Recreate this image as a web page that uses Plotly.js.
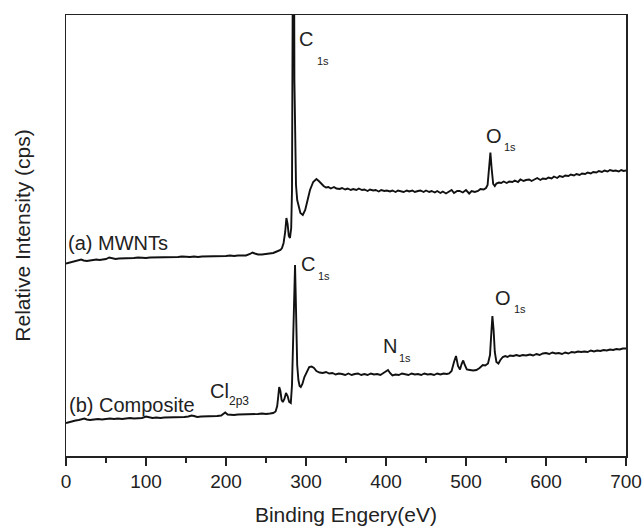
<!DOCTYPE html>
<html>
<head>
<meta charset="utf-8">
<script src="https://cdn.plot.ly/plotly-3.0.1.min.js"></script>
<style>html,body{margin:0;padding:0;background:#fff;}#chart{width:642px;height:526px;}</style>
</head>
<body>
<div id="chart"></div>
<script>
// Binding energy (eV) and relative intensity (arbitrary)
const mwntEnergy = [0,4,8,12,16,19,22,26,30,34,38,42,46,50,54,58,62,66,70,75,80,85,90,95,100,105,110,115,120,125,130,135,140,145,150,155,160,165,170,175,180,185,190,195,200,205,210,215,220,225,230,233,236,240,245,250,255,259,262,265,268,270,272,274,275.5,277,278.5,280,281.5,282.5,283.5,284.5,285.5,286.5,287.5,289,291,293,296,299,302,305,309,313,316,319,322,325,328,331,335,338,342,345,349,352,356,359,363,366,370,373,377,380,384,387,391,394,398,401,405,408,412,415,419,422,426,429,433,436,440,443,447,450,454,457,461,464,468,471,475,478,482,485,489,492,496,500,504,507,511,515,518,522,525,527,529,530.5,532,534,536,538,541,544,547,551,554,558,561,565,568,572,575,579,582,586,589,593,596,600,603,607,610,614,617,621,624,628,631,635,638,642,645,649,652,656,659,663,666,670,673,677,680,684,687,691,694,697,700];
const mwntIntensity = [192.5,193.5,194,195,196,196.5,195.5,195,195.5,196,196.5,196,196.5,197,198.5,197.5,197,197.5,197.5,198,197.5,198,198.5,198,198,198.5,198.5,199,198.5,199,199,198.5,199,199.5,199,199,199.5,199,199.5,199.5,200,199.5,200,199.5,200,200.5,200,200.5,200.5,200.5,202,203.5,202.5,201.5,201.5,202,202.5,203,204,205,206,208,213,224,238,232,220,218,228,266,356,700,376,306,271,256,248,243,241,246,256,266,274,277,275,272,270,268.5,269,267.5,269,267.5,267,268,266.5,267.5,266,267,266,267.5,266,266.5,265,266.5,265.5,266,264.5,266,265,265.5,264.5,265.5,264,265.5,265,264,265.5,264.5,265.5,264,265,265.5,264,265.5,264,265,263.5,265,263,264.5,262.5,264,266,263,265,265,263.5,266,262.5,265,264,265,267,266.5,268,271,288,303.5,288,272,270,272.5,273.5,273,274.5,273,274.5,274,275.5,274,276.5,275,276,276.5,275,276.5,278,276,277.5,277,278.5,277.5,279.5,278,280,279,280.5,280,281.5,280.5,282,281,282.5,282,283.5,282.5,284,283.5,285,284,285.5,284.5,286,285,285.5,284.5,286,285,285.5];

const compEnergy = [0,4,8,12,16,20,23,26,30,35,40,45,50,55,60,65,70,75,80,85,90,95,100,104,108,113,118,123,128,133,138,143,148,153,157,160,164,169,174,179,184,189,194,197,199,202,206,210,215,220,225,230,235,240,245,250,255,259,262,264,265.5,266.5,268,269.5,271,273,275,277,279,281,282.5,284,285.5,286.3,287,288,289,290.5,292,293.5,295.5,298,301,304,307,310,313,317,321,325,329,333,337,341,345,349,353,357,361,365,369,373,377,381,385,389,393,397,400,402.5,405,408,412,416,420,424,428,432,436,440,444,448,452,456,460,464,468,472,476,479,482,485,487.5,490,492.5,494.5,496.5,498.5,501,505,509,513,517,521,524,527.5,530,531.5,533,534.5,536,538,540.5,543,546,549,552,555,559,563,567,571,575,580,584,588,592,596,600,604,608,612,616,620,624,628,632,636,640,644,648,652,656,660,664,668,672,676,680,684,688,692,696,700];
const compIntensity = [33,34,34.5,35.5,36,37,37.5,36.5,36,36.5,37,36.5,37,37.5,37,37.5,37,37.5,38,37.5,38,38,39.5,39,38,38.5,38,38.5,38.5,39,38.5,39,39,39.5,40.5,40,39,39.5,39.5,40,39.5,40,40.5,42,43.5,41.5,41,41,41.5,41.5,41.5,42,42,42,42.5,42,42.5,43,44.5,50,61,69,65,56,54,57,63,60,54,53,71,116,171,191,166,121,91,76,70,69,72,79,85,89,89.5,88,85,83.5,83,84,82.5,83,81.5,82.5,82,81,82.5,81,82,82.5,81,82,81,82.5,81.5,82,81,83,85,86,83,80.5,81.5,81,82.5,81.5,81,82.5,81.5,82,81,82.5,81.5,82,81,82.5,81.5,82.5,82,82.5,85,94,100,90,86.5,92,95.5,91,86.5,86,85.5,86,88,91,90.5,92.5,101,121,140,126,104,94,92.5,96,99,100,99,100.5,100,101,100,101,100.5,101.5,100.5,102,101,102.5,103,102,103.5,102.5,103,102,103.5,102.5,104,103.5,104.5,104,104.5,104,105.5,104.5,105.5,105,106,105.5,106.5,106,107,106.5,107.5,107.5];

const seriesNames = ["(a) MWNTs", "(b) Composite"];
const xTicks = [0,100,200,300,400,500,600,700];

// Peak labels: [main text, subscript, x of main, y of main, x of sub, y of sub]
const peakLabels = [
  ["C", "1s", 288.5, 417, 311, 395.5],
  ["O", "1s", 522.5, 320.5, 544.5, 309.5],
  ["C", "1s", 291.5, 192, 312.5, 180.5],
  ["O", "1s", 534, 158.5, 557, 147],
  ["N", "1s", 393.5, 110, 413.5, 98],
  ["Cl", "2p3", 177, 65, 201, 55]
];

const txt = "#222";
const fam = "Liberation Sans, Arial, Helvetica, sans-serif";

const annotations = [];
peakLabels.forEach(p => {
  annotations.push({x: p[2], y: p[3], xref: "x", yref: "y", text: p[0], showarrow: false,
    xanchor: "left", yanchor: "middle", font: {size: 20, color: txt, family: fam}});
  annotations.push({x: p[4], y: p[5], xref: "x", yref: "y", text: p[1], showarrow: false,
    xanchor: "left", yanchor: "middle", font: {size: p[1].length > 2 ? 12 : 11, color: txt, family: fam}});
});
annotations.push({x: 0.5, y: 213, xref: "x", yref: "y", text: seriesNames[0], showarrow: false,
  xanchor: "left", yanchor: "middle", font: {size: 20, color: txt, family: fam}});
annotations.push({x: 1, y: 51, xref: "x", yref: "y", text: seriesNames[1], showarrow: false,
  xanchor: "left", yanchor: "middle", font: {size: 20, color: txt, family: fam}});

const traces = [
  {x: mwntEnergy, y: mwntIntensity, name: seriesNames[0], type: "scatter", mode: "lines",
   line: {color: "#111", width: 1.9}},
  {x: compEnergy, y: compIntensity, name: seriesNames[1], type: "scatter", mode: "lines",
   line: {color: "#111", width: 1.9}}
];

const layout = {
  width: 642, height: 526,
  margin: {l: 66, r: 16, t: 15, b: 70},
  paper_bgcolor: "#fff", plot_bgcolor: "#fff",
  showlegend: false,
  font: {family: fam, color: txt, size: 19},
  xaxis: {
    range: [0, 700], tickvals: xTicks, ticktext: xTicks.map(String),
    showline: true, mirror: true, linecolor: "#222", linewidth: 1.5,
    ticks: "outside", ticklen: 8, tickwidth: 1.5, tickcolor: "#222",
    minor: {tickvals: [50,150,250,350,450,550,650], ticks: "outside", ticklen: 5, tickwidth: 1.5, tickcolor: "#222"},
    showgrid: false, zeroline: false,
    tickfont: {size: 19, color: txt, family: fam},
    title: {text: "Binding Engery(eV)", font: {size: 21, color: txt, family: fam}, standoff: 17},
    automargin: false
  },
  yaxis: {
    range: [0, 441],
    showline: true, mirror: true, linecolor: "#222", linewidth: 1.5,
    ticks: "", showticklabels: false, showgrid: false, zeroline: false,
    title: {text: "Relative Intensity (cps)", font: {size: 21, color: txt, family: fam}, standoff: 28},
    automargin: false
  },
  annotations: annotations
};

Plotly.newPlot("chart", traces, layout, {staticPlot: true, displayModeBar: false});
</script>
</body>
</html>
